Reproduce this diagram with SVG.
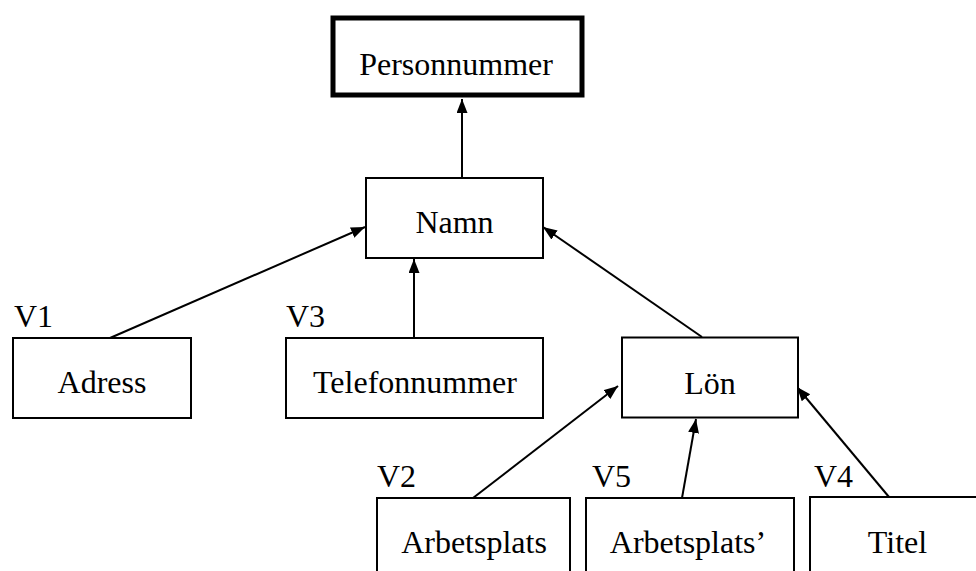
<svg xmlns="http://www.w3.org/2000/svg" width="976" height="571" viewBox="0 0 976 571">
<defs>
<style>
.box{fill:#fff;stroke:#000;stroke-width:2}
.key{fill:#fff;stroke:#000;stroke-width:5}
.lbl{font-family:"Liberation Serif","Times New Roman",serif;font-size:32px;fill:#000;text-anchor:middle}
.v{font-family:"Liberation Serif","Times New Roman",serif;font-size:32px;fill:#000}
.edge{stroke:#000;stroke-width:2;fill:none;marker-end:url(#arr)}
</style>
<marker id="arr" markerUnits="userSpaceOnUse" markerWidth="15" markerHeight="12" refX="14" refY="5.5" orient="auto">
<path d="M0,0 L14,5.5 L0,11 z" fill="#000"/>
</marker>
</defs>
<rect width="976" height="571" fill="#fff"/>
<g id="connectors">
<line class="edge" x1="462" y1="178" x2="462" y2="99"/>
<line class="edge" x1="110" y1="338" x2="365" y2="227"/>
<line class="edge" x1="414" y1="338" x2="414" y2="259"/>
<line class="edge" x1="702" y1="337" x2="543" y2="227"/>
<line class="edge" x1="473" y1="498" x2="618" y2="386"/>
<line class="edge" x1="682" y1="498" x2="696" y2="419"/>
<line class="edge" x1="889" y1="497" x2="797" y2="387"/>
</g>
<g id="personnummer">
<rect class="key" x="333" y="18" width="249" height="77"/>
<text class="lbl" x="456" y="75">Personnummer</text>
</g>
<g id="namn">
<rect class="box" x="366" y="178" width="177" height="80"/>
<text class="lbl" x="454.5" y="233">Namn</text>
</g>
<g id="adress">
<rect class="box" x="13" y="338" width="178" height="80"/>
<text class="lbl" x="102" y="393">Adress</text>
<text class="v" x="14" y="327">V1</text>
</g>
<g id="telefonnummer">
<rect class="box" x="286" y="338" width="257" height="80"/>
<text class="lbl" x="415" y="393">Telefonnummer</text>
<text class="v" x="286" y="327">V3</text>
</g>
<g id="lon">
<rect class="box" x="622" y="337.5" width="176" height="80"/>
<text class="lbl" x="710" y="394">Lön</text>
</g>
<g id="arbetsplats">
<rect class="box" x="377" y="498" width="193" height="80"/>
<text class="lbl" x="474" y="553">Arbetsplats</text>
<text class="v" x="377" y="487">V2</text>
</g>
<g id="arbetsplats2">
<rect class="box" x="586" y="498" width="208" height="80"/>
<text class="lbl" x="688" y="553">Arbetsplats’</text>
<text class="v" x="592" y="487">V5</text>
</g>
<g id="titel">
<rect class="box" x="810" y="497" width="175" height="80"/>
<text class="lbl" x="897.5" y="553">Titel</text>
<text class="v" x="814" y="487">V4</text>
</g>
</svg>
